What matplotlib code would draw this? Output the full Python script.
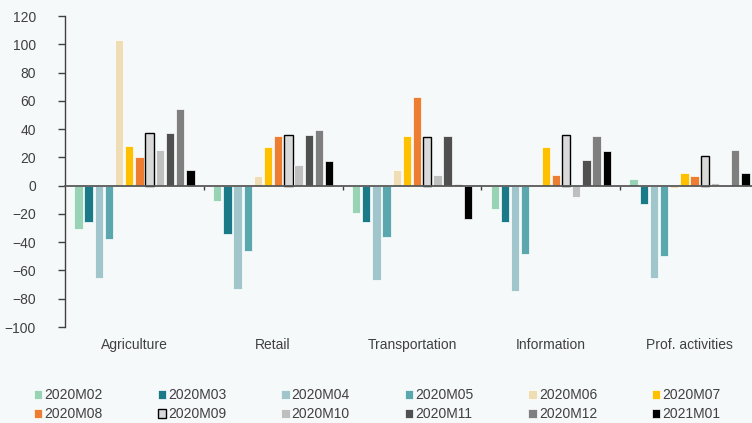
import matplotlib
matplotlib.use('Agg')
import matplotlib.pyplot as plt
import numpy as np

plt.rcParams['font.family'] = ['Liberation Sans', 'DejaVu Sans']

sectors = ['Agriculture', 'Retail', 'Transportation', 'Information', 'Prof. activities']
months = ['2020M02', '2020M03', '2020M04', '2020M05', '2020M06', '2020M07',
          '2020M08', '2020M09', '2020M10', '2020M11', '2020M12', '2021M01']

# one list per month, values per sector
m2020_02 = [-31, -11, -19.5, -16.5, 4.7]
m2020_03 = [-26, -34, -26, -25.5, -12.7]
m2020_04 = [-65.5, -73, -67, -74.5, -65]
m2020_05 = [-37.5, -46.5, -36, -48.3, -49.8]
m2020_06 = [103, 7, 11, 0, -2]
m2020_07 = [28, 27.4, 35, 27, 9.2]
m2020_08 = [20, 35, 63, 7.8, 7.1]
m2020_09 = [37, 35.6, 34.7, 35.6, 21.2]
m2020_10 = [25, 14.6, 7.8, -8, 1.9]
m2020_11 = [37, 35.6, 35, 18.2, 0.4]
m2020_12 = [54, 39.4, 1.2, 35, 25]
m2021_01 = [10.8, 17.5, -23.3, 24.3, 9.2]

series = [m2020_02, m2020_03, m2020_04, m2020_05, m2020_06, m2020_07,
          m2020_08, m2020_09, m2020_10, m2020_11, m2020_12, m2021_01]
colors = ['#98d3b6', '#1a7a87', '#a0c6cc', '#5ba7ae', '#efdeb5', '#ffc000',
          '#ed7d31', '#d9d9d9', '#bfbfbf', '#505050', '#7f7f7f', '#000000']

bg = '#f6f9fa'
txt = '#404040'

fig = plt.figure(figsize=(7.52, 4.23), dpi=100, facecolor=bg)
ax = fig.add_axes([65/752, 1-327/423, 1-65/752, (327-16)/423])
ax.set_facecolor(bg)

x = np.arange(len(sectors))
slot = 0.0733
for i, (vals, c) in enumerate(zip(series, colors)):
    off = (i - 5.5) * slot
    if months[i] == '2020M09':
        ax.bar(x + off, vals, width=0.06, color=c, edgecolor='black', linewidth=1.0,
               label=months[i], zorder=3)
    else:
        ax.bar(x + off, vals, width=0.06, color=c, edgecolor='white', linewidth=0.5,
               label=months[i], zorder=3)

ax.set_ylim(-100, 120)
ax.set_yticks(np.arange(-100, 121, 20))
ax.set_xlim(-0.5, 4.45)

for s in ['top', 'right']:
    ax.spines[s].set_visible(False)
ax.spines['left'].set_color('#404040')
ax.spines['left'].set_linewidth(1.0)
ax.spines['bottom'].set_position(('data', 0))
ax.spines['bottom'].set_color('#595959')
ax.spines['bottom'].set_linewidth(1.3)
ax.spines['bottom'].set_zorder(4)

ax.tick_params(axis='y', length=5, width=1, color='#404040', pad=16,
               labelsize=10, labelcolor=txt)
ax.set_xticks(x[:-1] + 0.5)
ax.set_xticklabels([])
ax.tick_params(axis='x', length=3, width=1, color='#404040')

sec = ax.secondary_xaxis('bottom')
sec.set_xticks(x)
sec.set_xticklabels(sectors)
sec.tick_params(length=0, pad=8, labelsize=10, labelcolor=txt)
sec.spines['bottom'].set_visible(False)

# legend fills column by column, so reorder to read row by row
handles, labels = ax.get_legend_handles_labels()
order = [k for c in range(6) for k in (c, c + 6)]
leg = fig.legend([handles[k] for k in order], [labels[k] for k in order],
                 loc='lower left', bbox_to_anchor=(23/752, -0.022), ncol=6,
                 frameon=False, fontsize=10, handlelength=0.6, handleheight=0.6,
                 handletextpad=0.15, columnspacing=3.95, labelspacing=0.37,
                 borderpad=0.3)
for t in leg.get_texts():
    t.set_color(txt)

fig.savefig('out.png', dpi=100, facecolor=bg)
